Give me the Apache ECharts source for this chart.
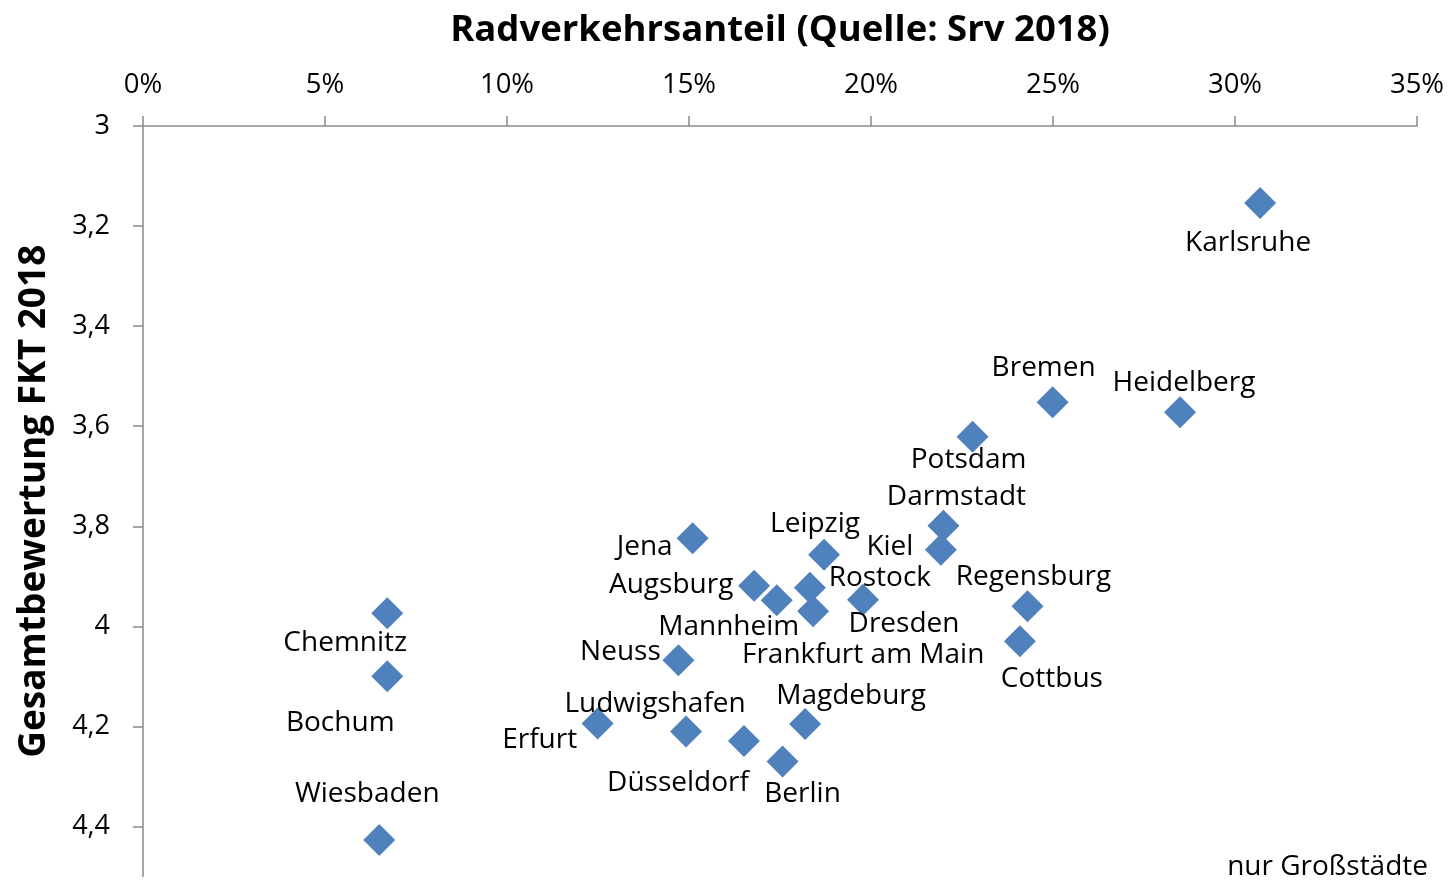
<!DOCTYPE html>
<html>
<head>
<meta charset="utf-8">
<script src="https://cdn.jsdelivr.net/npm/echarts@6/dist/echarts.min.js"></script>
<style>
html,body{margin:0;padding:0;background:#fff;}
#chart{width:1452px;height:881px;}
</style>
</head>
<body>
<div id="chart"></div>
<script>
// ---- data ----
const cities = ['Karlsruhe','Bremen','Heidelberg','Potsdam','Darmstadt','Kiel','Leipzig','Jena','Augsburg','Mannheim','Rostock','Frankfurt am Main','Dresden','Regensburg','Cottbus','Chemnitz','Bochum','Wiesbaden','Neuss','Erfurt','Ludwigshafen','Düsseldorf','Magdeburg','Berlin'];
const radverkehrsanteil = [30.69,24.99,28.49,22.79,21.99,21.92,18.71,15.10,16.79,17.41,18.32,18.41,19.78,24.30,24.09,6.71,6.71,6.49,14.71,12.49,14.92,16.51,18.19,17.57];
const gesamtbewertung = [3.154,3.552,3.572,3.621,3.799,3.847,3.857,3.824,3.919,3.948,3.923,3.970,3.947,3.960,4.030,3.974,4.100,4.427,4.068,4.194,4.210,4.229,4.195,4.270];

// ---- label layout (pixel offsets of each label from its marker) ----
const labelOffsets = {
  'Karlsruhe':[-12,40],'Bremen':[-9,-34],'Heidelberg':[4,-29],'Potsdam':[-4,23],
  'Darmstadt':[13,-29],'Kiel':[-51,-3],'Leipzig':[-9,-31],'Jena':[-48,9],
  'Augsburg':[-83,-1],'Mannheim':[-48,27],'Rostock':[70,-10],'Frankfurt am Main':[50,44],
  'Dresden':[41,24],'Regensburg':[6,-29],'Cottbus':[32,38],'Chemnitz':[-42,30],
  'Bochum':[-47,47],'Wiesbaden':[-12,-46],'Neuss':[-58,-8],'Erfurt':[-58,17],
  'Ludwigshafen':[-31,-27],'Düsseldorf':[-66,42],'Magdeburg':[46,-28],'Berlin':[20,33]
};

const FONT = 'Open Sans';
const AXIS_COLOR = '#898989';

const seriesData = cities.map((c, i) => ({
  name: c,
  value: [radverkehrsanteil[i], gesamtbewertung[i]],
  label: { offset: labelOffsets[c] }
}));

const chart = echarts.init(document.getElementById('chart'), null, {renderer:'canvas'});
chart.setOption({
  animation: false,
  backgroundColor: '#fff',
  grid: { left: 143, right: 35, top: 126, bottom: 4.5, containLabel: false },
  graphic: [{
    type: 'text', right: 24, bottom: 0,
    style: { text: 'nur Großstädte', fontSize: 28, fontFamily: FONT, fill: '#000' }
  }],
  xAxis: {
    type: 'value', position: 'top', min: 0, max: 35, interval: 5,
    name: 'Radverkehrsanteil (Quelle: Srv 2018)', nameLocation: 'middle', nameGap: 77,
    nameTextStyle: { fontSize: 36.5, fontWeight: 'bold', fontFamily: FONT, color: '#000' },
    axisLine: { show: true, onZero: false, lineStyle: { color: AXIS_COLOR, width: 1.5 } },
    axisTick: { show: true, length: 10, lineStyle: { color: AXIS_COLOR, width: 1.5 } },
    axisLabel: { formatter: '{value}%', fontSize: 27.5, margin: 27, color: '#000', fontFamily: FONT },
    splitLine: { show: false }
  },
  yAxis: {
    type: 'value', inverse: true, min: 3, max: 4.5, interval: 0.2,
    name: 'Gesamtbewertung FKT 2018', nameLocation: 'middle', nameGap: 90, nameRotate: 90,
    nameTextStyle: { fontSize: 37, fontWeight: 'bold', fontFamily: FONT, color: '#000' },
    axisLine: { show: true, onZero: false, lineStyle: { color: AXIS_COLOR, width: 1.5 } },
    axisTick: { show: true, length: 10, lineStyle: { color: AXIS_COLOR, width: 1.5 } },
    axisLabel: {
      fontSize: 27, margin: 33, color: '#000', fontFamily: FONT, showMaxLabel: false,
      formatter: v => (Math.abs(v - 4.5) < 1e-9 ? '' : String(Math.round(v * 10) / 10).replace('.', ','))
    },
    splitLine: { show: false }
  },
  series: [{
    type: 'scatter',
    symbol: 'diamond',
    symbolSize: 32,
    itemStyle: { color: '#4F81BD', opacity: 1 },
    label: {
      show: true, position: 'inside', formatter: '{b}',
      fontSize: 28, fontFamily: FONT, color: '#000'
    },
    emphasis: { disabled: true },
    data: seriesData
  }]
});
</script>
</body>
</html>
